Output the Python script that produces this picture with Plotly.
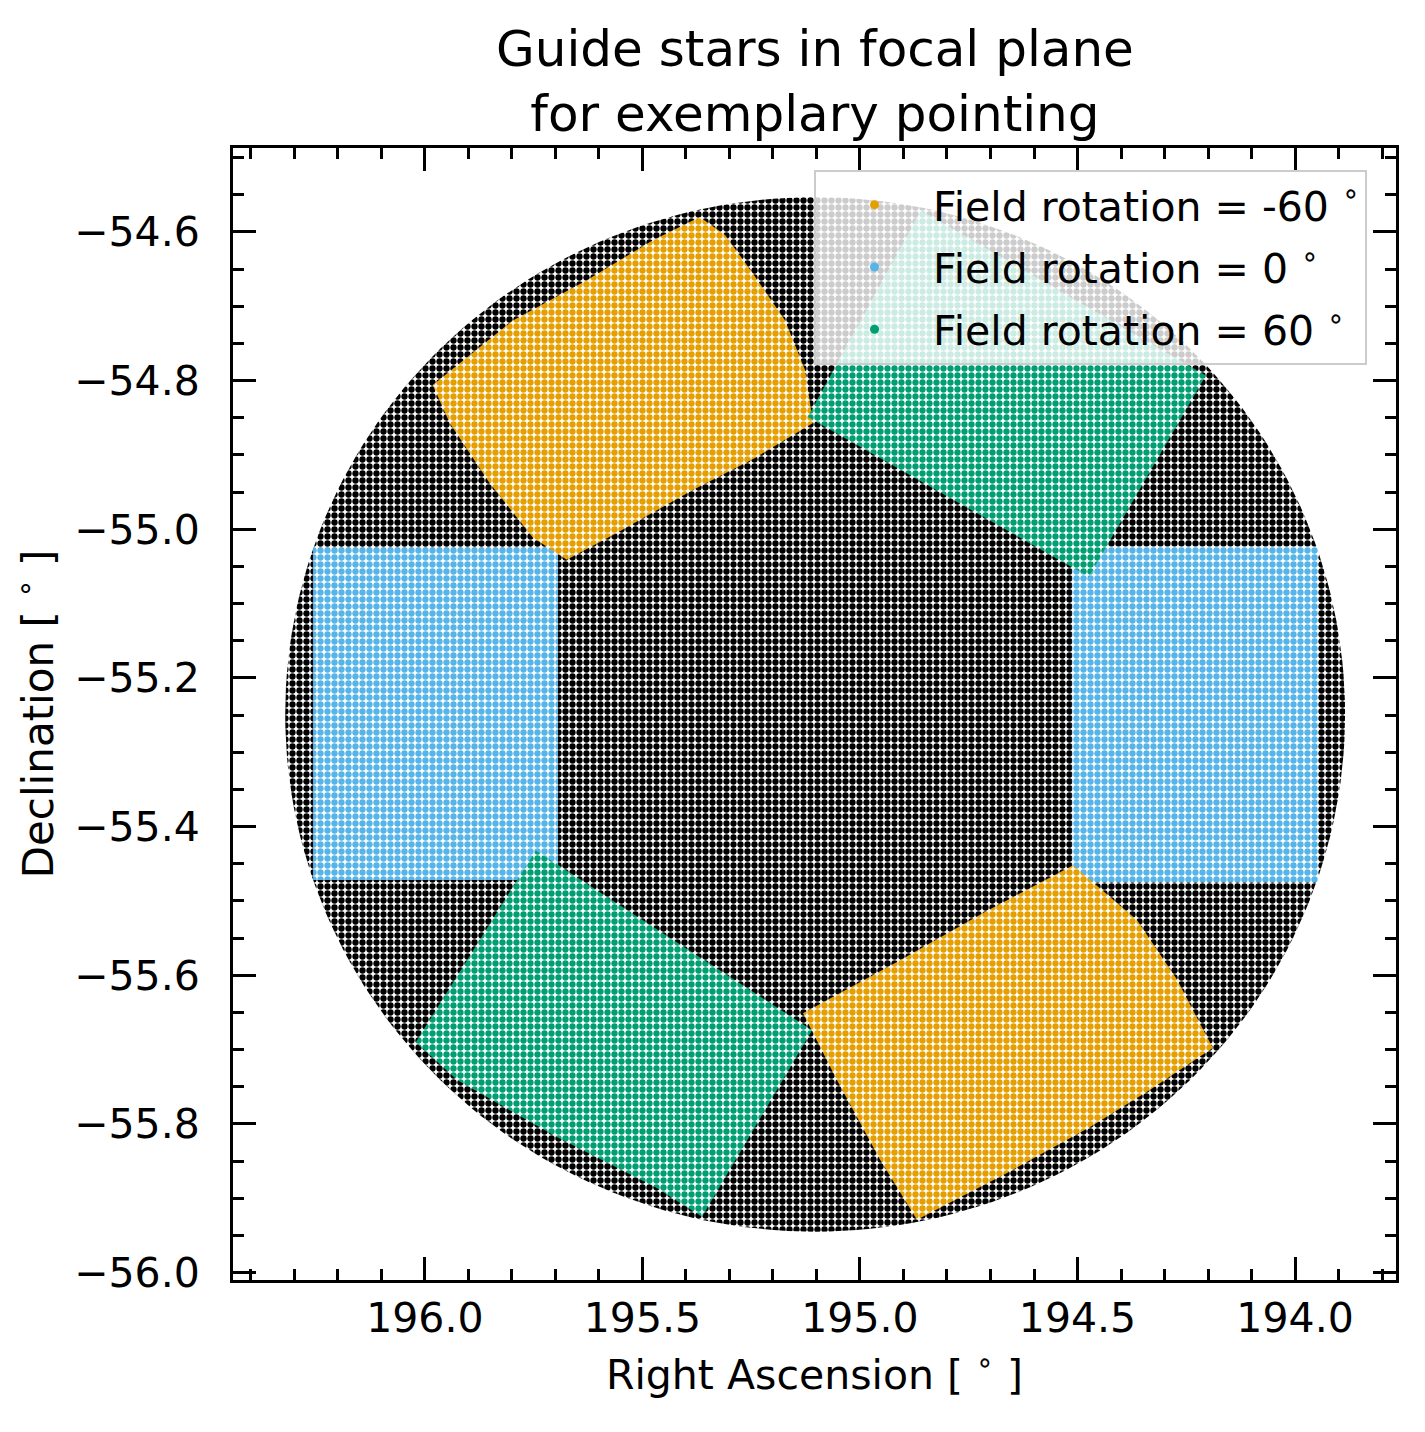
import numpy as np
import plotly.graph_objects as go

# ---------------- data ----------------
# focal plane field of view (all stars, black)
field_center_ra = 195.103
field_center_dec = -55.249
field_radius_ra = 1.218
field_radius_dec = 0.696

# guide-star chips, outline vertices (RA, Dec) in degrees
chip_blue_left_ra = [196.257, 195.694, 195.694, 196.257]
chip_blue_left_dec = [-55.024, -55.024, -55.472, -55.472]
chip_blue_right_ra = [194.513, 193.947, 193.947, 194.513]
chip_blue_right_dec = [-55.023, -55.023, -55.475, -55.475]

chip_orange_top_ra = [195.982, 195.798, 195.628, 195.476, 195.368, 195.310, 195.246, 195.172,
                      195.126, 195.108, 195.241, 195.384, 195.559, 195.674, 195.752, 195.851, 195.943]
chip_orange_top_dec = [-54.806, -54.719, -54.665, -54.611, -54.580, -54.604, -54.656, -54.719,
                       -54.786, -54.857, -54.904, -54.947, -55.005, -55.041, -55.011, -54.938, -54.857]
chip_orange_bottom_ra = [195.131, 194.915, 194.713, 194.510, 194.363, 194.271, 194.189,
                         194.333, 194.471, 194.662, 194.869, 194.954, 195.053]
chip_orange_bottom_dec = [-55.651, -55.582, -55.515, -55.452, -55.526, -55.606, -55.698,
                          -55.754, -55.804, -55.866, -55.929, -55.848, -55.741]

chip_green_top_ra = [195.120, 194.860, 194.205, 194.474]
chip_green_top_dec = [-54.849, -54.571, -54.793, -55.064]
chip_green_bottom_ra = [195.745, 195.110, 195.363, 195.471, 195.699, 195.926, 196.021]
chip_green_bottom_dec = [-55.432, -55.674, -55.925, -55.885, -55.817, -55.741, -55.690]

labels = ['Field rotation = -60 <sup>∘</sup>', 'Field rotation = 0 <sup>∘</sup>',
          'Field rotation = 60 <sup>∘</sup>']
colors = ['#E69F00', '#56B4E9', '#009E73']

x_ticks = [196.0, 195.5, 195.0, 194.5, 194.0]
y_ticks = [-54.6, -54.8, -55.0, -55.2, -55.4, -55.6, -55.8, -56.0]
# -----------------------------------------------------------

FONT = 'DejaVu Sans'
fig = go.Figure()


def stipple(ra, dec, color):
    # star field drawn as a dotted fill of the region
    return go.Scatter(x=ra, y=dec, mode='lines', fill='toself',
                      line=dict(width=0, color=color),
                      fillpattern=dict(shape='.', fgcolor=color, bgcolor='white',
                                       size=7, solidity=0.64, fillmode='replace'),
                      showlegend=False, hoverinfo='skip')


t = np.linspace(0, 2 * np.pi, 241)
circ_ra = field_center_ra + field_radius_ra * np.cos(t)
circ_dec = field_center_dec + field_radius_dec * np.sin(t)
fig.add_trace(stipple(circ_ra, circ_dec, 'black'))

fig.add_trace(stipple(chip_blue_left_ra, chip_blue_left_dec, colors[1]))
fig.add_trace(stipple(chip_blue_right_ra, chip_blue_right_dec, colors[1]))
fig.add_trace(stipple(chip_orange_top_ra, chip_orange_top_dec, colors[0]))
fig.add_trace(stipple(chip_orange_bottom_ra, chip_orange_bottom_dec, colors[0]))
fig.add_trace(stipple(chip_green_top_ra, chip_green_top_dec, colors[2]))
fig.add_trace(stipple(chip_green_bottom_ra, chip_green_bottom_dec, colors[2]))

# legend entries
for i, (lab, c) in enumerate(zip(labels, colors)):
    fig.add_trace(go.Scatter(x=[None], y=[None], mode='markers', name=lab,
                             legendgroup=f'g{i}', marker=dict(color=c, size=9)))

axis_common = dict(showline=True, linewidth=3, linecolor='black', mirror='allticks',
                   ticks='inside', ticklen=23, tickwidth=3, tickcolor='black',
                   showgrid=False, zeroline=False,
                   tickfont=dict(family=FONT, size=41, color='black'))

fig.update_xaxes(range=[196.441, 193.768], tickvals=x_ticks, tickformat='.1f',
                 minor=dict(ticks='inside', ticklen=11, tickwidth=3, dtick=0.1,
                            tick0=196.0, tickcolor='black', showgrid=False),
                 title=dict(text='Right Ascension [ <sup>∘</sup> ]', standoff=20,
                            font=dict(family=FONT, size=41, color='black')),
                 ticklabelstandoff=0,
                 **axis_common)
fig.update_yaxes(range=[-56.010, -54.487], tickvals=y_ticks, tickformat='.1f',
                 minor=dict(ticks='inside', ticklen=11, tickwidth=3, dtick=0.05,
                            tick0=-56.0, tickcolor='black', showgrid=False),
                 title=dict(text='Declination [ <sup>∘</sup> ]', standoff=10,
                            font=dict(family=FONT, size=42, color='black')),
                 ticklabelstandoff=22, automargin=True,
                 **axis_common)

fig.update_layout(
    width=1417, height=1424, autosize=False,
    margin=dict(l=225, r=29, t=140, b=152),
    paper_bgcolor='white', plot_bgcolor='white',
    font=dict(family=FONT, size=41, color='black'),
    title=dict(text='Guide stars in focal plane<br>for exemplary pointing',
               x=0.5004, xref='paper', xanchor='center', y=0.9590, yanchor='middle',
               font=dict(family=FONT, size=50, color='black')),
    legend=dict(x=0.4996, y=0.981, xanchor='left', yanchor='top',
                bgcolor='rgba(255,255,255,0.8)', bordercolor='#cccccc', borderwidth=2,
                font=dict(family=FONT, size=41, color='black'),
                itemwidth=107, tracegroupgap=6),
)

fig.write_html('out.html')
